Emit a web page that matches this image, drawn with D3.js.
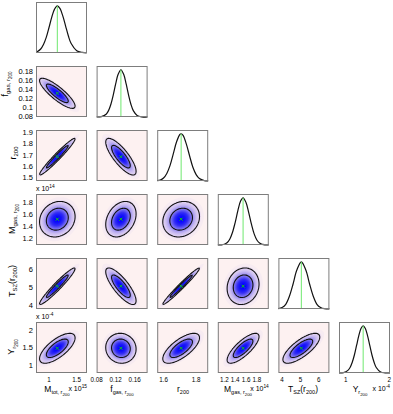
<!DOCTYPE html>
<html>
<head>
<meta charset="utf-8">
<script src="https://cdn.jsdelivr.net/npm/d3@7"></script>
<style>
body { margin: 0; background: #fff; }
text { font-family: "Liberation Sans", Arial, sans-serif; fill: #000; }
</style>
</head>
<body>
<script>
var width = 393, height = 414;
var size = 51;

// bottom axis (columns) domains and ticks
var xDomains = [[0.765, 1.686], [0.08, 0.187], [1.561, 1.874], [1.08, 2.02], [3.8, 6.58], [0.846, 2.015]];
var xTicks = [[1, 1.5], [0.08, 0.12, 0.16], [1.6, 1.8], [1.2, 1.4, 1.6, 1.8], [4, 5, 6], [1, 2]];
// left axis (rows) domains and ticks
var yDomains = [null, [0.079, 0.191], [1.467, 1.924], [1.10, 1.93], [3.81, 6.61], [0.8, 2.22]];
var yTicks = [null, [0.08, 0.1, 0.12, 0.14, 0.16, 0.18], [1.5, 1.6, 1.7, 1.8, 1.9], [1.2, 1.4, 1.6, 1.8], [4, 5, 6], [1, 1.5, 2]];

// posterior centres and widths, as read on the bottom axes
var means = [1.15, 0.131, 1.708, 1.546, 5.05, 1.40];
var sds = [0.131, 0.013, 0.046, 0.12, 0.41, 0.145];
// same, as read on the left axes
var rowMeans = [null, 0.131, 1.685, 1.52, 5.06, 1.488];
var rowSds = [null, 0.0135, 0.067, 0.118, 0.41, 0.17];
// correlation of each 2d panel (row, col)
var rhos = [[], [-0.85], [0.97, -0.80], [0.15, 0.30, 0.15], [0.96, -0.80, 0.98, 0.12], [0.70, -0.05, 0.70, 0.78, 0.75]];

// 1d marginals (relative height)
var mtotVals = [0.78, 0.85, 0.9, 0.95, 1.0, 1.05, 1.1, 1.15, 1.2, 1.25, 1.3, 1.35, 1.4, 1.5, 1.6, 1.68];
var mtotPdf = [0.02, 0.085, 0.18, 0.33, 0.54, 0.76, 0.93, 1, 0.94, 0.78, 0.57, 0.36, 0.2, 0.05, 0.012, 0.004];
var fgasVals = [0.08, 0.09, 0.1, 0.105, 0.11, 0.115, 0.12, 0.125, 0.131, 0.137, 0.142, 0.147, 0.152, 0.157, 0.165, 0.175, 0.187];
var fgasPdf = [0, 0.007, 0.059, 0.135, 0.27, 0.47, 0.70, 0.90, 1, 0.90, 0.70, 0.47, 0.27, 0.135, 0.033, 0.003, 0];
var r200Vals = [1.561, 1.58, 1.6, 1.62, 1.64, 1.66, 1.68, 1.7, 1.708, 1.72, 1.74, 1.76, 1.78, 1.8, 1.82, 1.85, 1.874];
var r200Pdf = [0.006, 0.021, 0.063, 0.16, 0.33, 0.58, 0.83, 0.985, 1, 0.966, 0.78, 0.53, 0.29, 0.135, 0.052, 0.008, 0.002];
var mgasVals = [1.08, 1.15, 1.2, 1.25, 1.3, 1.35, 1.4, 1.45, 1.5, 1.546, 1.6, 1.65, 1.7, 1.75, 1.8, 1.85, 1.9, 2.02];
var mgasPdf = [0.0005, 0.004, 0.016, 0.047, 0.122, 0.265, 0.476, 0.726, 0.93, 1, 0.90, 0.686, 0.44, 0.236, 0.106, 0.041, 0.013, 0];
var tszVals = [3.8, 4.0, 4.2, 4.4, 4.6, 4.8, 5.05, 5.3, 5.5, 5.7, 5.9, 6.1, 6.3, 6.58];
var tszPdf = [0.008, 0.032, 0.10, 0.27, 0.53, 0.82, 1, 0.82, 0.53, 0.27, 0.10, 0.032, 0.007, 0.001];
var yrVals = [0.846, 0.95, 1.05, 1.1, 1.15, 1.2, 1.25, 1.3, 1.35, 1.4, 1.45, 1.5, 1.55, 1.6, 1.65, 1.7, 1.8, 1.9, 2.015];
var yrPdf = [0.001, 0.008, 0.055, 0.117, 0.227, 0.386, 0.588, 0.79, 0.942, 1, 0.942, 0.79, 0.588, 0.386, 0.227, 0.117, 0.022, 0.003, 0.0005];

var pdfVals = [mtotVals, fgasVals, r200Vals, mgasVals, tszVals, yrVals];
var pdfs = [mtotPdf, fgasPdf, r200Pdf, mgasPdf, tszPdf, yrPdf];

// labels: [text, level]  level 1 = subscript, 2 = sub-subscript
var colLabels = [
  [["M", 0], ["tot, r", 1], ["200", 2]],
  [["f", 0], ["gas, r", 1], ["200", 2]],
  [["r", 0], ["200", 1]],
  [["M", 0], ["gas, r", 1], ["200", 2]],
  [["T", 0], ["SZ", 1], ["(r", 0], ["200", 1], [")", 0]],
  [["Y", 0], ["r", 1], ["200", 2]]
];
var rowLabels = [null,
  [["f", 0], ["gas, r", 1], ["200", 2]],
  [["r", 0], ["200", 1]],
  [["M", 0], ["gas, r", 1], ["200", 2]],
  [["T", 0], ["SZ", 1], ["(r", 0], ["200", 1], [")", 0]],
  [["Y", 0], ["r", 1], ["200", 2]]
];
var colExp = ["15", null, null, "14", null, "-4"];
var rowExp = [null, null, null, "14", null, "-4"];

var svg = d3.select("body").append("svg")
    .attr("width", width)
    .attr("height", height);

var colPos = d3.scaleLinear().domain([0, 5]).range([36, 339]);
var rowPos = d3.scaleLinear().domain([0, 5]).range([2, 322]);

var shade = d3.scaleLinear()
    .domain([0, 0.05, 0.32, 0.65, 1])
    .range(["#fdf1f1", "#e0d1f2", "#8f84ee", "#3832f4", "#0000ff"]);

var gridN = 64;
var fillLevels = d3.range(0.01, 1.0, 0.02);
var lineLevels = [0.05, 0.32];

function richText(sel, parts, sizes) {
  var offs = [0, 2.4, 4.2];
  var cur = 0;
  parts.forEach(function(p) {
    var target = offs[p[1]];
    sel.append("tspan")
      .attr("dy", target - cur)
      .attr("font-size", sizes[p[1]])
      .text(p[0]);
    cur = target;
  });
}

function expText(sel, power) {
  sel.append("tspan").attr("font-size", 7).text("x 10");
  sel.append("tspan").attr("font-size", 4.8).attr("dy", -3).text(power);
}

var clipId = 0;

for (var i = 0; i < 6; i++) {
  for (var j = 0; j <= i; j++) {
    var g = svg.append("g")
        .attr("transform", "translate(" + colPos(j) + "," + rowPos(i) + ")");
    var x = d3.scaleLinear().domain(xDomains[j]).range([0, size]);

    if (i === j) {
      // 1d marginal
      var y1 = d3.scaleLinear().domain([0, 1.08]).range([size, 0]);
      var pts = pdfVals[i].map(function(v, k) { return [v, pdfs[i][k]]; });
      g.append("path")
        .attr("d", d3.line()
          .x(function(d) { return x(d[0]); })
          .y(function(d) { return y1(d[1]); })
          .curve(d3.curveCatmullRom.alpha(0.5))(pts))
        .attr("fill", "none")
        .attr("stroke", "#111")
        .attr("stroke-width", 1.2);
      g.append("line")
        .attr("x1", x(means[i])).attr("x2", x(means[i]))
        .attr("y1", y1(0)).attr("y2", y1(1))
        .attr("stroke", "#6fe86f")
        .attr("stroke-width", 1);
    } else {
      // 2d joint
      var y = d3.scaleLinear().domain(yDomains[i]).range([size, 0]);
      var r = rhos[i][j];
      var vals = new Array(gridN * gridN);
      for (var gy = 0; gy < gridN; gy++) {
        for (var gx = 0; gx < gridN; gx++) {
          var zx = (x.invert((gx + 0.5) * size / gridN) - means[j]) / sds[j];
          var zy = (y.invert((gy + 0.5) * size / gridN) - rowMeans[i]) / rowSds[i];
          vals[gy * gridN + gx] = Math.exp(-(zx * zx - 2 * r * zx * zy + zy * zy) / (2 * (1 - r * r)));
        }
      }
      var k = size / gridN;
      var path = d3.geoPath(d3.geoTransform({
        point: function(px, py) { this.stream.point(px * k, py * k); }
      }));
      var cid = "clip" + (clipId++);
      g.append("clipPath").attr("id", cid)
        .append("rect").attr("width", size).attr("height", size);
      var inner = g.append("g").attr("clip-path", "url(#" + cid + ")");
      inner.append("rect")
        .attr("width", size).attr("height", size)
        .attr("fill", shade(0));
      inner.selectAll("path.band")
        .data(d3.contours().size([gridN, gridN]).thresholds(fillLevels)(vals))
        .enter().append("path")
        .attr("class", "band")
        .attr("d", path)
        .attr("fill", function(d) { return shade(d.value); });
      inner.selectAll("path.cl")
        .data(d3.contours().size([gridN, gridN]).thresholds(lineLevels)(vals))
        .enter().append("path")
        .attr("class", "cl")
        .attr("d", path)
        .attr("fill", "none")
        .attr("stroke", "#111")
        .attr("stroke-width", 1.1);
      var cx = x(means[j]), cy = y(rowMeans[i]);
      g.append("path")
        .attr("d", "M" + (cx - 1.5) + "," + (cy - 1.5) + "L" + (cx + 1.5) + "," + (cy + 1.5) +
                   "M" + (cx - 1.5) + "," + (cy + 1.5) + "L" + (cx + 1.5) + "," + (cy - 1.5))
        .attr("stroke", "#14c814")
        .attr("stroke-width", 1);

      // left tick labels
      if (j === 0) {
        g.selectAll("text.yt")
          .data(yTicks[i])
          .enter().append("text")
          .attr("class", "yt")
          .attr("x", -3)
          .attr("y", function(d) { return y(d); })
          .attr("dy", "0.35em")
          .attr("text-anchor", "end")
          .attr("font-size", 7.5)
          .text(function(d) { return String(d); });
      }
    }

    // frame
    g.append("rect")
      .attr("x", 0.5).attr("y", 0.5)
      .attr("width", size - 1).attr("height", size - 1)
      .attr("fill", "none")
      .attr("stroke", "#7d7d7d")
      .attr("stroke-width", 1);

    // bottom tick labels (slightly condensed, as in the source figure)
    if (i === 5) {
      g.selectAll("text.xt")
        .data(xTicks[j])
        .enter().append("text")
        .attr("class", "xt")
        .attr("transform", function(d) { return "translate(" + x(d) + "," + (size + 8.5) + ") scale(0.85,1)"; })
        .attr("text-anchor", "middle")
        .attr("font-size", 7.4)
        .text(function(d) { return String(d); });
    }
  }
}

// row labels (rotated)
var rowLabelX = [0, 8, 16, 15, 15, 14];
var rowLabelY = [0, 84, 153, 219, 281, 347];
for (var i = 1; i < 6; i++) {
  var t = svg.append("text")
    .attr("transform", "translate(" + rowLabelX[i] + "," + rowLabelY[i] + ") rotate(-90)")
    .attr("text-anchor", "middle");
  richText(t, rowLabels[i], [9, 6, 4.5]);
  if (rowExp[i]) {
    var e = svg.append("text")
      .attr("x", colPos(0))
      .attr("y", rowPos(i) - 3);
    expText(e, rowExp[i]);
  }
}

// column labels
var colLabelX = [57, 122, 183, 238, 303, 360];
for (var j = 0; j < 6; j++) {
  var t = svg.append("text")
    .attr("x", colLabelX[j])
    .attr("y", 392)
    .attr("text-anchor", "middle");
  richText(t, colLabels[j], [8.5, 5.5, 4.3]);
  if (colExp[j]) {
    var e = svg.append("text")
      .attr("x", colPos(j) + size)
      .attr("y", 391)
      .attr("text-anchor", "end");
    expText(e, colExp[j]);
  }
}
</script>
</body>
</html>
